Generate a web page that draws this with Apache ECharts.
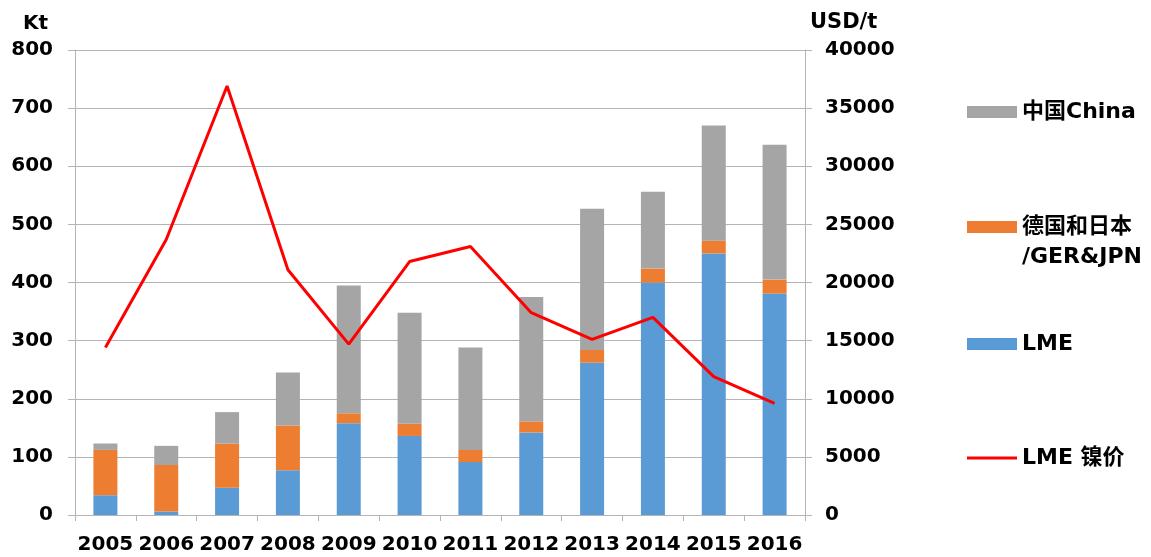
<!DOCTYPE html>
<html>
<head>
<meta charset="utf-8">
<script src="https://cdn.jsdelivr.net/npm/echarts@6/dist/echarts.min.js"></script>
<style>
  html, body { margin: 0; padding: 0; background: #fff; }
  #chart { width: 1151px; height: 557px; }
</style>
</head>
<body>
<div id="chart"></div>
<script>
const years = ['2005', '2006', '2007', '2008', '2009', '2010', '2011', '2012', '2013', '2014', '2015', '2016'];
// stocks, Kt
const lmeStock = [34, 6, 47, 77, 158, 136, 91, 142, 262, 400, 450, 381];
const gerJpnStock = [78, 80, 76, 77, 17, 21, 21, 19, 22, 24, 22, 24];
const chinaStock = [11, 33, 54, 91, 220, 191, 176, 214, 243, 132, 198, 232];
// LME nickel price, USD/t
const lmePrice = [14400, 23700, 36900, 21100, 14700, 21800, 23100, 17400, 15100, 17000, 11900, 9600];

const FONT = '"DejaVu Sans", "Noto Sans CJK SC", sans-serif';
const GRID_GRAY = '#b4b4b4';

const chart = echarts.init(document.getElementById('chart'));

const legendBase = {
  orient: 'vertical',
  left: 967,
  padding: 0,
  itemWidth: 50,
  itemHeight: 12,
  textStyle: { fontFamily: FONT, fontWeight: 'bold', fontSize: 22, color: '#000', lineHeight: 30 },
  selectedMode: false
};

const option = {
  animation: false,
  textStyle: { fontFamily: FONT },
  grid: { left: 75, right: 346, top: 50, bottom: 42 },
  legend: [
    { ...legendBase, top: 97, data: [{ name: '中国China', icon: 'rect' }] },
    // blank first line so the icon sits level with the first text line
    { ...legendBase, top: 182, data: [{ name: '德国和日本/GER&JPN', icon: 'rect' }],
      formatter: () => ' \n德国和日本\n/GER&JPN' },
    { ...legendBase, top: 329, data: [{ name: 'LME', icon: 'rect' }] },
    { ...legendBase, top: 443, data: [{ name: 'LME 镍价', icon: 'path://M0,0 H50 V3 H0 Z' }] }
  ],
  xAxis: {
    type: 'category',
    data: years,
    boundaryGap: true,
    axisLine: { lineStyle: { color: GRID_GRAY, width: 1 } },
    axisTick: { show: true, length: 6, lineStyle: { color: GRID_GRAY } },
    axisLabel: {
      interval: 0, margin: 20, color: '#000',
      fontFamily: FONT, fontWeight: 'bold', fontSize: 20
    }
  },
  yAxis: [
    {
      type: 'value', min: 0, max: 800, interval: 100,
      name: 'Kt', nameLocation: 'end', nameGap: 26,
      nameTextStyle: { fontFamily: FONT, fontWeight: 'bold', fontSize: 20, color: '#000',
        align: 'right', verticalAlign: 'middle', padding: [0, 27, 0, 0] },
      axisLine: { show: true, lineStyle: { color: GRID_GRAY } },
      axisTick: { show: true, length: 7, lineStyle: { color: GRID_GRAY } },
      splitLine: { lineStyle: { color: GRID_GRAY, width: 1 } },
      axisLabel: { margin: 22, color: '#000', fontFamily: FONT, fontWeight: 'bold', fontSize: 20 }
    },
    {
      type: 'value', min: 0, max: 40000, interval: 5000,
      name: 'USD/t', nameLocation: 'end', nameGap: 27,
      nameTextStyle: { fontFamily: FONT, fontWeight: 'bold', fontSize: 21, color: '#000',
        align: 'left', verticalAlign: 'middle', padding: [0, 0, 0, 5] },
      axisLine: { show: true, lineStyle: { color: GRID_GRAY } },
      axisTick: { show: true, length: 7, lineStyle: { color: GRID_GRAY } },
      splitLine: { show: false },
      axisLabel: { margin: 20, color: '#000', fontFamily: FONT, fontWeight: 'bold', fontSize: 20,
        formatter: v => String(v) }
    }
  ],
  series: [
    {
      name: 'LME', type: 'bar', stack: 'stock', barWidth: 24,
      itemStyle: { color: '#5B9BD5' }, data: lmeStock
    },
    {
      name: '德国和日本/GER&JPN', type: 'bar', stack: 'stock', barWidth: 24,
      itemStyle: { color: '#ED7D31' }, data: gerJpnStock
    },
    {
      name: '中国China', type: 'bar', stack: 'stock', barWidth: 24,
      itemStyle: { color: '#A5A5A5' }, data: chinaStock
    },
    {
      name: 'LME 镍价', type: 'line', yAxisIndex: 1,
      showSymbol: false, symbol: 'none',
      lineStyle: { color: '#FF0000', width: 3 },
      itemStyle: { color: '#FF0000' },
      data: lmePrice
    }
  ]
};

chart.setOption(option);
</script>
</body>
</html>
